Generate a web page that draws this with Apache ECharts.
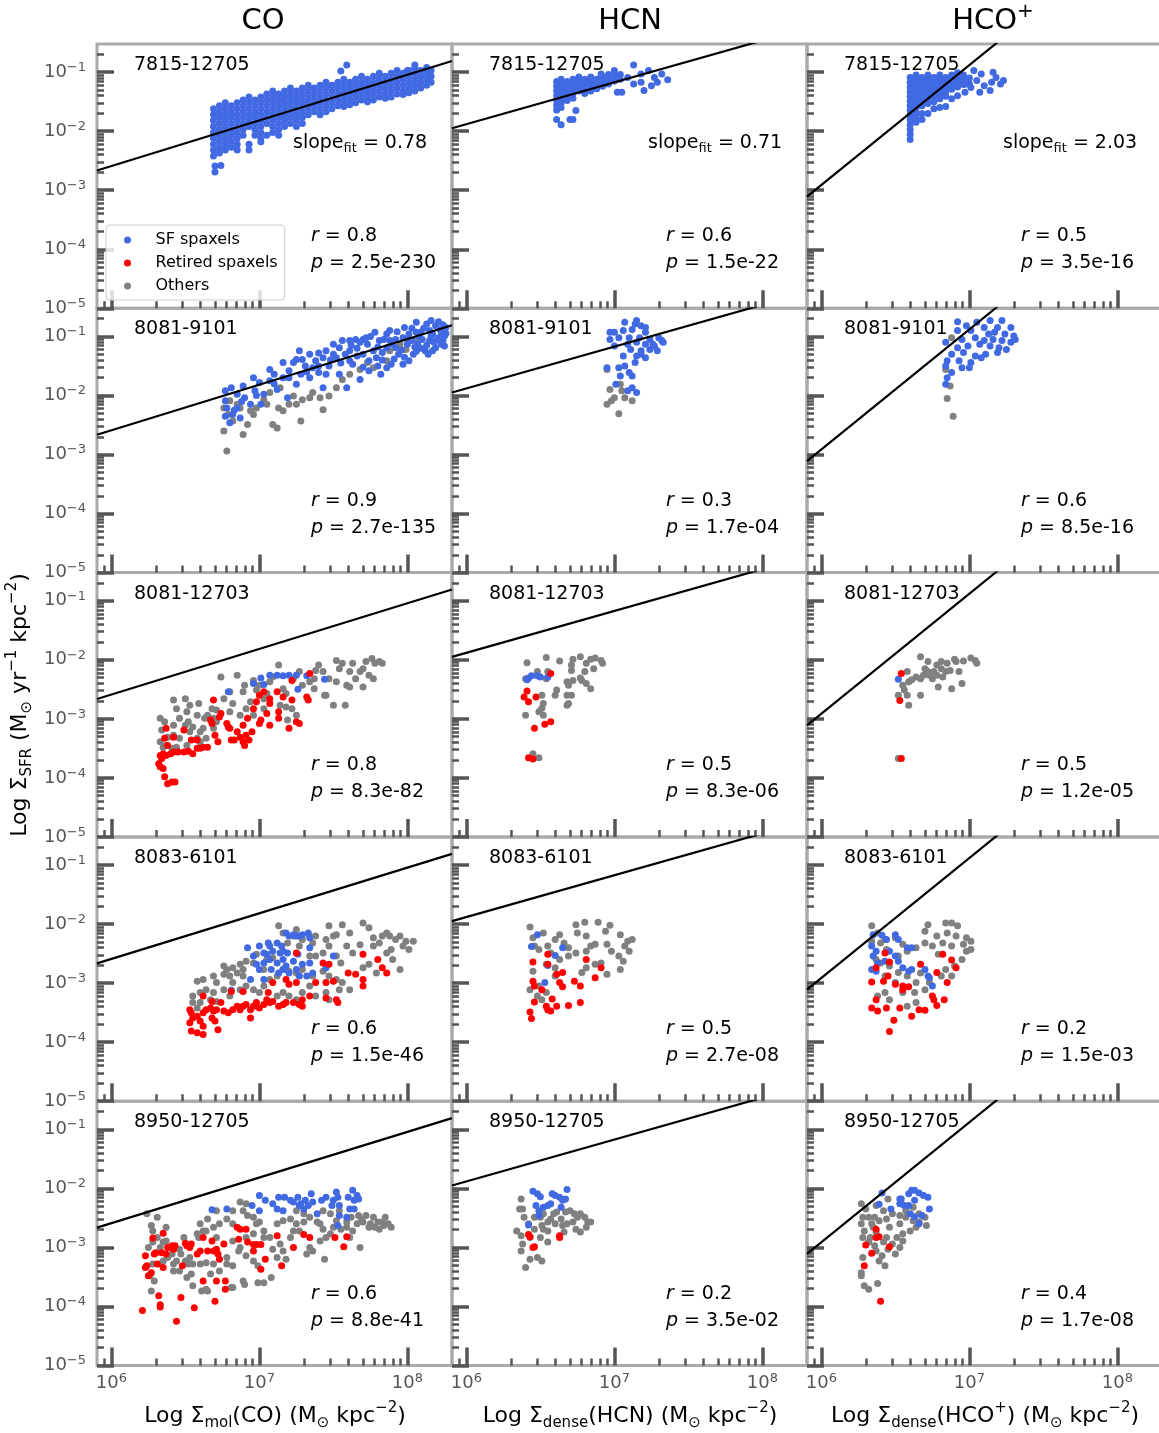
<!DOCTYPE html>
<html><head><meta charset="utf-8">
<script src="https://cdn.jsdelivr.net/npm/echarts@6/dist/echarts.min.js"></script>
<style>html,body{margin:0;padding:0;background:#fff}#c{width:1159px;height:1433px}</style>
</head><body><div id="c"></div>
<script>
const FONT = 'DejaVu Sans';
const galaxies = ['7815-12705','8081-9101','8081-12703','8083-6101','8950-12705'];
const rText = [['0.8','0.6','0.5'],['0.9','0.3','0.6'],['0.8','0.5','0.5'],['0.6','0.5','0.2'],['0.6','0.2','0.4']];
const pText = [['2.5e-230','1.5e-22','3.5e-16'],['2.7e-135','1.7e-04','8.5e-16'],['8.3e-82','8.3e-06','1.2e-05'],['1.5e-46','2.7e-08','1.5e-03'],['8.8e-41','3.5e-02','1.7e-08']];
const slopeText = ['0.78','0.71','2.03'];
const X_MIN = 8e5, X_MAX = 2e8, Y_MIN = 1e-5, Y_MAX = 0.3;
const xMajor = [1e6,1e7,1e8];
const xMinor = [9e5,2e6,3e6,4e6,5e6,6e6,7e6,8e6,9e6,2e7,3e7,4e7,5e7,6e7,7e7,8e7,9e7];
const yMajor = [1e-5,1e-4,1e-3,1e-2,1e-1];
const yMinor = [2e-5,3e-5,4e-5,5e-5,6e-5,7e-5,8e-5,9e-5,2e-4,3e-4,4e-4,5e-4,6e-4,7e-4,8e-4,9e-4,2e-3,3e-3,4e-3,5e-3,6e-3,7e-3,8e-3,9e-3,2e-2,3e-2,4e-2,5e-2,6e-2,7e-2,8e-2,9e-2,2e-1];

// fit lines, log10 values [log x, log y]
const fitCO  = [[5.903,-2.665],[8.301,-0.81]];
const fitHCN = [[5.903,-1.95],[8.301,-0.25]];
const fitHCO = [[5.903,-3.11],[7.30,-0.27]];

// All points below are log10 values [log Sigma_gas, log Sigma_SFR]
// 7815-12705 (columns: [logx, [logy...]])
const g1_CO_sf_cols = [
[6.69,[-1.62,-1.72,-1.82,-1.92,-2.02,-2.12,-2.22,-2.32,-2.42]],[6.70,[-2.59,-2.69]],
[6.73,[-1.57,-1.67,-1.77,-1.87,-1.97,-2.07,-2.17,-2.27,-2.37]],[6.74,[-2.58]],
[6.77,[-1.52,-1.62,-1.72,-1.82,-1.92,-2.02,-2.12,-2.22,-2.32]],
[6.81,[-1.57,-1.67,-1.77,-1.87,-1.97,-2.07,-2.17,-2.27]],
[6.85,[-1.52,-1.62,-1.72,-1.82,-1.92,-2.02,-2.12,-2.22,-2.32]],
[6.89,[-1.47,-1.57,-1.67,-1.77,-1.87,-1.97,-2.07]],
[6.93,[-1.42,-1.52,-1.62,-1.72,-1.82,-1.92,-2.22,-2.32]],
[6.97,[-1.47,-1.57,-1.67,-1.77,-1.87,-1.97,-2.07]],
[7.01,[-1.42,-1.52,-1.62,-1.72,-1.82,-1.92,-2.02,-2.12,-2.18]],
[7.05,[-1.37,-1.47,-1.57,-1.67,-1.77,-1.87,-2.07]],
[7.09,[-1.32,-1.42,-1.52,-1.62,-1.72,-1.82,-1.92,-2.02]],
[7.13,[-1.37,-1.47,-1.57,-1.67,-1.77,-1.87,-1.97,-2.07]],
[7.17,[-1.32,-1.42,-1.52,-1.62,-1.72,-1.82,-1.92]],
[7.21,[-1.27,-1.37,-1.47,-1.57,-1.67,-1.77,-1.87]],
[7.25,[-1.32,-1.42,-1.52,-1.62,-1.72,-1.82,-1.92]],
[7.29,[-1.27,-1.37,-1.47,-1.57,-1.67,-1.77,-1.87]],
[7.33,[-1.22,-1.32,-1.42,-1.52,-1.62,-1.72]],
[7.37,[-1.27,-1.37,-1.47,-1.57,-1.67]],
[7.41,[-1.22,-1.32,-1.42,-1.52,-1.62,-1.72]],
[7.45,[-1.17,-1.27,-1.37,-1.47,-1.57,-1.67]],
[7.49,[-1.22,-1.32,-1.42,-1.52,-1.62]],
[7.53,[-1.17,-1.27,-1.37,-1.47,-1.57]],[7.55,[-0.98]],
[7.57,[-1.12,-1.22,-1.32,-1.42,-1.52,-1.58]],[7.59,[-0.88]],
[7.61,[-1.17,-1.27,-1.37,-1.47,-1.55]],
[7.65,[-1.12,-1.22,-1.32,-1.42,-1.52]],
[7.69,[-1.07,-1.17,-1.27,-1.37,-1.47]],
[7.73,[-1.12,-1.22,-1.32,-1.42,-1.50]],
[7.77,[-1.07,-1.17,-1.27,-1.37,-1.47]],
[7.81,[-1.02,-1.12,-1.22,-1.32,-1.42]],
[7.85,[-1.07,-1.17,-1.27,-1.37,-1.44]],
[7.89,[-1.02,-1.12,-1.22,-1.32,-1.42]],
[7.93,[-0.97,-1.07,-1.17,-1.27,-1.37]],
[7.97,[-1.02,-1.12,-1.22,-1.32,-1.38]],[8.00,[-0.97]],
[8.01,[-0.97,-1.07,-1.17,-1.27,-1.35]],
[8.05,[-0.88,-0.92,-1.02,-1.12,-1.22,-1.32]],
[8.09,[-0.97,-1.07,-1.17,-1.27]],
[8.13,[-0.92,-1.02,-1.12,-1.22]],
[8.16,[-0.97,-1.07,-1.17]]
];
const g1_HCN_sf_cols = [
[6.61,[-1.16,-1.24,-1.32,-1.40,-1.48,-1.56,-1.64,-1.80]],[6.64,[-1.12,-1.20,-1.28,-1.36,-1.44,-1.52,-1.60,-1.89]],
[6.68,[-1.16,-1.24,-1.32,-1.40,-1.48]],[6.70,[-1.80]],[6.72,[-1.12,-1.20,-1.28,-1.36,-1.44,-1.80]],[6.74,[-1.65]],
[6.76,[-1.08,-1.16,-1.24,-1.32]],[6.80,[-1.12,-1.20,-1.28,-1.36]],[6.84,[-1.08,-1.16,-1.24,-1.32]],
[6.88,[-1.12,-1.20,-1.28]],[6.91,[-1.03]],[6.92,[-1.08,-1.16,-1.24]],[6.96,[-1.04,-1.12,-1.20]],
[7.00,[-1.06,-1.15,-0.97]],[7.02,[-1.34]],[7.04,[-1.04,-1.12]],[7.05,[-1.34]],[7.09,[-1.09]],
[7.13,[-0.88,-1.20]],[7.18,[-1.03,-1.17]],[7.20,[-1.31]],[7.23,[-0.97]],[7.25,[-1.23]],[7.27,[-1.09]],
[7.29,[-1.17]],[7.32,[-1.03]],[7.36,[-1.13]]
];
const g1_HCO_sf_cols = [
[6.60,[-1.09,-1.17,-1.25,-1.33,-1.41,-1.49,-1.57,-1.65,-1.73,-1.81,-1.89,-1.97,-2.05,-2.14]],
[6.64,[-1.05,-1.13,-1.21,-1.29,-1.37,-1.45,-1.53,-1.61,-1.69,-1.77,-1.85]],
[6.68,[-1.09,-1.17,-1.25,-1.33,-1.41,-1.49,-1.57,-1.70,-1.80]],
[6.72,[-1.05,-1.13,-1.21,-1.29,-1.37,-1.45,-1.53,-1.70]],
[6.76,[-1.09,-1.17,-1.25,-1.33,-1.41,-1.50,-1.62]],
[6.80,[-1.05,-1.13,-1.21,-1.29,-1.37,-1.45,-1.60]],
[6.84,[-1.09,-1.17,-1.25,-1.33,-1.41,-1.58]],
[6.88,[-1.05,-1.13,-1.21,-1.29,-1.45]],
[6.92,[-1.01,-1.09,-1.17,-1.25,-1.40]],
[6.96,[-1.05,-1.13,-1.21]],[6.97,[-1.34]],[6.98,[-1.20]],[7.00,[-1.10,-1.20]],[7.01,[-1.26]],
[7.03,[-0.97]],[7.05,[-1.14]],[7.07,[-1.34]],[7.08,[-1.03]],[7.10,[-1.23]],[7.14,[-1.31]],
[7.15,[-1.17]],[7.16,[-1.00]],[7.18,[-1.09]],[7.21,[-1.20]],[7.23,[-1.14]]
];

// 8081-9101
const g2_CO_sf = [[6.77,-1.92],[6.77,-2.09],[6.78,-2.21],[6.77,-2.35],[6.80,-2.46],[6.82,-2.32],[6.85,-2.21],[6.87,-2.38],[6.81,-1.87],[6.85,-1.98],[6.89,-1.84],[6.90,-2.04],[6.94,-2.15],[6.96,-1.70],[6.97,-1.92],[7.00,-1.78],[7.03,-1.98],[7.01,-2.15],[7.07,-1.56],[7.07,-1.75],[7.10,-1.64],[7.12,-1.90],[7.16,-1.44],[7.16,-1.70],[7.19,-2.04],[7.20,-1.58],[7.25,-1.39],[7.25,-1.81],[7.28,-1.64],[7.31,-1.50],[7.34,-1.30],[7.34,-1.70],[7.38,-1.41],[7.40,-1.61],[7.43,-1.87],[7.45,-1.24],[7.47,-1.50],[7.50,-1.13],[7.52,-1.36],[7.54,-1.64],[7.56,-1.07],[7.59,-1.87],[7.61,-1.24],[7.63,-1.47],[7.65,-1.05],[7.68,-1.73],[7.70,-1.30],[7.73,-1.13],[7.74,-1.58],[7.78,-0.93],[7.79,-1.36],[7.81,-1.07],[7.82,-1.64],[7.86,-1.19],[7.88,-0.90],[7.89,-1.47],[7.92,-1.05],[7.94,-1.30],[7.97,-1.47],[7.98,-0.85],[8.00,-1.13],[8.01,-0.96],[8.04,-1.30],[8.06,-0.76],[8.07,-1.13],[8.09,-0.93],[8.12,-1.24],[8.13,-0.79],[8.15,-1.07],[8.16,-0.73],[8.17,-0.96],[8.19,-1.19],[8.22,-0.88],[8.24,-1.07],[8.25,-0.99],[8.26,-0.85],[7.88,-1.07],[7.92,-1.19],[7.97,-1.02],[8.03,-1.07],[8.06,-0.93],[8.10,-1.05],[8.15,-0.90],[8.18,-1.10],[8.21,-1.02],[8.23,-1.13],[8.25,-1.16],[7.83,-1.27],[7.77,-1.24],[7.68,-1.10],[7.72,-1.02],[7.61,-1.07],[7.54,-1.19],[7.50,-1.30],[7.43,-1.36],[7.36,-1.53],[7.29,-1.39],[7.23,-1.44],[7.27,-1.24],[7.45,-1.64],[7.61,-1.41],[7.74,-1.41],[7.86,-1.53],[8.01,-1.41],[8.17,-1.24],
[7.62,-1.15],[7.66,-1.20],[7.70,-1.05],[7.75,-1.00],[7.80,-1.18],[7.84,-1.05],[7.86,-0.96],[7.90,-1.13],[7.93,-0.92],[7.96,-1.23],[8.00,-1.05],[8.03,-0.86],[8.05,-1.18],[8.08,-1.00],[8.11,-0.86],[8.13,-1.15],[8.16,-0.99],[8.19,-0.82],[8.20,-1.06],[8.23,-0.94],[8.26,-0.95],[8.24,-0.80],[8.21,-0.75],[8.09,-1.20],[7.98,-1.35],[7.83,-1.40],[7.70,-1.52],[7.58,-1.30],[7.48,-1.40],[7.40,-1.50],[7.32,-1.60],[7.20,-1.70],[7.10,-1.80],[6.98,-2.00],[6.88,-2.10],[6.83,-2.25],[7.40,-1.28],[7.55,-1.45],[7.66,-1.33],[7.80,-1.50],[7.91,-1.38],[8.06,-1.25],[8.14,-1.30]];
const g2_CO_oth = [[6.78,-2.94],[6.76,-2.60],[6.89,-2.66],[6.92,-2.49],[6.82,-2.43],[6.96,-2.32],[7.09,-2.49],[7.12,-2.55],[7.16,-2.26],[7.20,-2.15],[7.25,-2.15],[7.28,-2.43],[7.34,-2.04],[7.43,-2.24],[7.47,-2.01],[7.52,-1.87],[7.68,-1.56],[7.77,-1.53],[7.86,-1.41],[7.95,-1.13],[8.06,-1.07],[6.76,-2.21],[6.80,-2.09],[6.85,-2.15],[6.98,-2.21],[7.03,-2.07],[7.07,-1.95],[7.14,-1.87],[7.23,-2.01],[7.36,-1.95],[6.79,-2.32],[6.87,-2.21],[6.94,-2.26],[7.05,-2.15],[7.13,-2.21],[7.29,-2.07],[7.41,-2.04],[7.56,-1.73],[7.61,-1.64],[7.73,-1.44],[7.88,-1.24],[7.99,-1.22]];
const g2_HCN_sf = [[7.07,-0.76],[7.15,-0.73],[7.00,-0.93],[7.06,-0.90],[7.12,-0.88],[7.18,-0.82],[7.21,-0.93],[6.97,-1.05],[7.03,-1.02],[7.10,-1.02],[7.17,-1.02],[7.24,-1.05],[7.30,-1.02],[7.33,-1.10],[7.27,-1.16],[7.21,-1.13],[7.15,-1.10],[7.09,-1.13],[7.00,-1.16],[7.11,-1.22],[7.18,-1.24],[7.24,-1.22],[7.29,-1.24],[7.06,-1.33],[7.15,-1.33],[7.21,-1.36],[7.14,-1.44],[7.07,-1.50],[6.95,-1.53],[7.03,-1.53],[7.10,-1.61],[7.04,-1.67],[7.12,-1.67],[7.01,-1.81],[7.12,-1.87],[7.09,-1.92],[7.15,-1.95],[7.18,-1.30],[7.26,-1.13],[7.32,-1.07],[6.97,-0.93],[7.14,-0.79],[7.21,-0.85]];
const g2_HCN_oth = [[6.95,-1.56],[6.97,-1.90],[7.04,-1.81],[7.00,-2.04],[6.95,-2.15],[7.03,-2.31],[7.07,-2.04],[7.12,-2.09],[6.98,-2.09],[7.05,-1.92]];
const g2_HCO_sf = [[6.92,-0.75],[7.05,-0.76],[7.14,-0.73],[7.22,-0.73],[7.10,-0.85],[7.19,-0.85],[7.28,-0.85],[6.92,-0.90],[7.01,-0.90],[7.13,-0.96],[7.24,-0.96],[7.31,-1.05],[6.84,-1.10],[6.95,-1.05],[7.04,-1.02],[7.10,-1.07],[7.16,-1.05],[7.22,-1.07],[7.28,-1.10],[6.92,-1.19],[6.99,-1.16],[7.07,-1.13],[7.14,-1.16],[7.20,-1.19],[6.88,-1.30],[6.96,-1.27],[7.04,-1.33],[7.11,-1.30],[7.19,-1.27],[6.85,-1.41],[6.93,-1.41],[7.01,-1.44],[7.08,-1.36],[6.95,-1.53],[6.84,-1.50],[6.88,-1.61],[6.85,-1.70],[6.84,-1.81],[7.00,-1.53],[7.25,-1.22],[7.30,-0.99],[7.17,-0.93],[6.98,-0.82]];
const g2_HCO_oth = [[6.88,-1.02],[6.84,-1.56],[6.87,-1.84],[6.85,-2.05],[6.89,-2.35]];

// 8081-12703
const g3_CO_sf = [[6.79,-2.54],[6.96,-2.40],[7.01,-2.31],[7.07,-2.26],[7.12,-2.26],[7.16,-2.27],[7.20,-2.26],[7.25,-2.26],[7.26,-2.50],[7.32,-2.27],[7.44,-2.33],[7.03,-2.42]];
const g3_CO_ret = [[6.32,-3.76],[6.33,-3.81],[6.35,-3.84],[6.36,-3.98],[6.38,-4.10],[6.41,-4.07],[6.43,-4.07],[6.34,-3.67],[6.33,-3.62],[6.35,-3.59],[6.37,-3.62],[6.40,-3.59],[6.42,-3.56],[6.45,-3.56],[6.49,-3.56],[6.52,-3.55],[6.55,-3.59],[6.58,-3.50],[6.60,-3.50],[6.62,-3.48],[6.65,-3.48],[6.38,-3.45],[6.36,-3.33],[6.37,-3.16],[6.42,-3.31],[6.49,-3.19],[6.54,-3.36],[6.58,-3.36],[6.67,-3.02],[6.68,-3.08],[6.70,-3.28],[6.72,-3.39],[6.73,-2.97],[6.74,-2.91],[6.79,-3.14],[6.78,-3.08],[6.69,-2.68],[6.81,-3.36],[6.83,-3.36],[6.87,-3.31],[6.89,-3.39],[6.91,-3.28],[6.93,-3.36],[6.89,-3.11],[6.95,-3.22],[6.92,-2.99],[6.96,-2.83],[6.98,-2.71],[7.00,-2.60],[7.03,-2.54],[7.00,-3.08],[7.01,-3.02],[7.05,-2.91],[7.07,-3.11],[7.07,-2.74],[7.12,-2.54],[7.13,-2.88],[7.13,-2.99],[7.16,-2.63],[7.22,-2.68],[7.20,-3.16],[7.25,-3.05],[7.27,-3.08],[7.22,-2.35],[7.32,-2.63],[7.33,-2.68],[7.34,-2.23],[6.80,-3.16],[6.85,-3.22],[6.90,-3.45],[7.07,-2.66]];
const g3_CO_oth = [[6.33,-2.99],[6.34,-3.19],[6.33,-3.39],[6.35,-3.48],[6.37,-3.45],[6.42,-3.28],[6.42,-2.68],[6.44,-2.83],[6.46,-2.99],[6.50,-2.66],[6.51,-2.88],[6.53,-2.77],[6.55,-3.14],[6.58,-2.94],[6.59,-2.74],[6.60,-3.22],[6.62,-3.16],[6.63,-2.99],[6.64,-3.33],[6.68,-2.83],[6.69,-2.99],[6.71,-2.85],[6.74,-2.29],[6.76,-2.66],[6.80,-2.54],[6.82,-2.74],[6.85,-2.26],[6.87,-2.94],[6.89,-2.54],[6.90,-2.43],[6.91,-2.83],[6.94,-2.71],[6.96,-2.35],[6.98,-2.51],[7.00,-2.43],[7.03,-2.83],[7.07,-2.37],[7.09,-2.29],[7.13,-2.09],[7.14,-2.77],[7.16,-2.49],[7.18,-2.80],[7.19,-3.02],[7.23,-2.32],[7.25,-2.94],[7.27,-2.20],[7.29,-2.43],[7.34,-2.37],[7.37,-2.49],[7.38,-2.18],[7.40,-2.09],[7.43,-2.20],[7.45,-2.60],[7.47,-2.32],[7.50,-2.77],[7.52,-2.37],[7.54,-2.15],[7.52,-2.01],[7.56,-2.06],[7.59,-2.43],[7.58,-2.77],[7.61,-2.20],[7.63,-2.06],[7.65,-2.32],[7.68,-2.20],[7.70,-2.46],[7.72,-2.03],[7.74,-2.26],[7.76,-1.98],[7.78,-2.06],[7.81,-2.03],[7.83,-2.06],[7.77,-2.32],[7.70,-2.15],[7.61,-2.46],[7.44,-2.60],[7.37,-2.32],[7.22,-2.83],[7.18,-2.57],[6.69,-3.16],[6.53,-3.22],[6.46,-3.33],[6.50,-3.11],[6.58,-3.33],[6.42,-3.11],[6.41,-3.50],[6.44,-3.48],[6.51,-3.45],[6.60,-3.39],[7.03,-2.66],[7.05,-2.57],[6.96,-2.94],[6.80,-2.88],[6.71,-3.05],[6.65,-2.94],[6.52,-3.05],[6.36,-3.05],[6.38,-3.31]];
const g3_HCN_sf = [[6.42,-2.31],[6.44,-2.27],[6.48,-2.27],[6.50,-2.29],[6.55,-2.29],[6.41,-2.34]];
const g3_HCN_ret = [[6.57,-2.23],[6.41,-2.53],[6.39,-2.63],[6.42,-2.71],[6.47,-2.63],[6.46,-3.16],[6.53,-3.09],[6.57,-3.05],[6.42,-3.66],[6.45,-3.68]];
const g3_HCN_oth = [[6.41,-2.05],[6.54,-1.96],[6.63,-2.02],[6.72,-1.99],[6.77,-1.95],[6.71,-2.09],[6.71,-2.18],[6.81,-2.06],[6.84,-1.99],[6.87,-1.97],[6.91,-2.01],[6.92,-2.06],[6.86,-2.15],[6.80,-2.20],[6.77,-2.31],[6.78,-2.35],[6.72,-2.35],[6.68,-2.37],[6.69,-2.43],[6.81,-2.40],[6.84,-2.49],[6.61,-2.51],[6.60,-2.60],[6.68,-2.60],[6.71,-2.60],[6.68,-2.77],[6.69,-2.74],[6.51,-2.60],[6.52,-2.74],[6.51,-2.82],[6.49,-2.88],[6.40,-2.94],[6.52,-2.94],[6.45,-3.59],[6.49,-3.66],[6.40,-2.32],[6.48,-2.20],[6.55,-2.20],[6.54,-2.32]];
const g3_HCO_sf = [[6.52,-2.33]];
const g3_HCO_ret = [[6.54,-2.23],[6.53,-2.69],[6.54,-3.67]];
const g3_HCO_oth = [[6.67,-1.95],[6.72,-2.03],[6.78,-2.09],[6.81,-2.03],[6.85,-2.06],[6.90,-1.99],[6.91,-2.03],[6.96,-2.02],[7.01,-1.97],[7.04,-2.01],[7.05,-2.06],[6.93,-2.20],[6.87,-2.18],[6.81,-2.15],[6.76,-2.20],[6.72,-2.20],[6.69,-2.26],[6.64,-2.29],[6.58,-2.20],[6.59,-2.37],[6.55,-2.43],[6.61,-2.34],[6.67,-2.32],[6.73,-2.26],[6.75,-2.32],[6.82,-2.29],[6.79,-2.46],[6.88,-2.49],[6.95,-2.40],[6.56,-2.51],[6.52,-2.60],[6.58,-2.60],[6.67,-2.60],[6.59,-2.77],[6.52,-3.67],[6.70,-2.15],[6.78,-2.26],[6.84,-2.20]];

// 8083-6101
const g4_CO_sf = [[6.92,-2.40],[6.96,-2.54],[6.98,-2.68],[7.00,-2.77],[7.03,-2.66],[7.05,-2.51],[7.07,-2.37],[7.09,-2.46],[7.12,-2.32],[7.14,-2.49],[7.15,-2.37],[7.16,-2.46],[7.18,-2.15],[7.20,-2.20],[7.23,-2.18],[7.25,-2.20],[7.27,-2.20],[7.29,-2.18],[7.33,-2.15],[7.34,-2.23],[7.12,-2.66],[7.16,-2.60],[7.18,-2.71],[7.20,-2.83],[7.25,-2.77],[7.29,-2.68],[7.34,-2.66],[7.36,-2.83],[7.32,-2.88],[7.27,-2.88],[7.13,-2.83],[7.08,-2.77],[7.03,-2.94],[6.94,-2.94],[6.81,-3.12],[7.34,-2.40],[7.50,-2.54],[7.45,-2.74],[7.23,-2.63],[7.07,-2.60],[7.26,-2.51],[7.19,-2.49],[7.03,-2.49],[7.00,-2.37],[7.06,-2.32],[7.16,-2.77]];
const g4_CO_ret = [[6.53,-3.45],[6.54,-3.50],[6.55,-3.59],[6.53,-3.67],[6.54,-3.81],[6.58,-3.84],[6.62,-3.87],[6.62,-3.73],[6.60,-3.64],[6.58,-3.56],[6.62,-3.50],[6.64,-3.45],[6.67,-3.42],[6.69,-3.47],[6.71,-3.45],[6.68,-3.59],[6.70,-3.64],[6.72,-3.79],[6.76,-3.47],[6.79,-3.50],[6.82,-3.45],[6.85,-3.39],[6.87,-3.45],[6.89,-3.39],[6.91,-3.36],[6.94,-3.45],[6.94,-3.59],[6.96,-3.39],[6.98,-3.33],[7.00,-3.42],[7.03,-3.36],[7.05,-3.28],[7.07,-3.33],[7.09,-3.31],[7.13,-3.39],[7.16,-3.36],[7.18,-3.33],[7.23,-3.33],[7.27,-3.36],[7.29,-3.39],[7.29,-3.28],[7.34,-3.22],[7.45,-3.25],[7.52,-3.28],[7.53,-3.33],[7.06,-3.16],[6.62,-3.22],[6.68,-3.31],[6.74,-3.33],[7.25,-2.49],[7.43,-2.66],[7.47,-2.68],[7.70,-2.51],[7.80,-2.60],[7.83,-2.74],[7.86,-2.83],[7.60,-2.83],[7.65,-2.85],[7.70,-2.94],[7.70,-3.05],[7.50,-2.97],[7.45,-2.99],[7.38,-2.99],[7.25,-2.99],[7.20,-3.02],[7.18,-2.94],[7.09,-2.99],[6.89,-3.14],[6.81,-3.14]];
const g4_CO_oth = [[6.58,-2.97],[6.62,-2.94],[6.69,-2.88],[6.71,-2.99],[6.76,-2.85],[6.78,-2.77],[6.80,-2.88],[6.82,-2.99],[6.85,-2.83],[6.87,-2.68],[6.89,-2.77],[6.91,-2.63],[6.96,-2.66],[6.98,-2.51],[7.03,-2.77],[7.05,-2.60],[7.09,-2.57],[7.13,-2.03],[7.16,-2.15],[7.19,-2.32],[7.23,-2.20],[7.25,-2.09],[7.27,-2.37],[7.29,-2.26],[7.34,-2.20],[7.36,-2.32],[7.38,-2.54],[7.43,-2.49],[7.45,-2.26],[7.47,-2.37],[7.50,-2.20],[7.52,-2.18],[7.56,-2.01],[7.61,-2.15],[7.59,-2.37],[7.63,-2.49],[7.68,-2.35],[7.70,-1.98],[7.74,-2.06],[7.77,-2.23],[7.81,-2.32],[7.83,-2.20],[7.86,-2.15],[7.88,-2.20],[7.89,-2.43],[7.92,-2.26],[7.95,-2.20],[7.97,-2.37],[7.99,-2.29],[8.01,-2.43],[8.04,-2.29],[7.86,-2.49],[7.90,-2.60],[7.95,-2.77],[7.74,-2.68],[7.79,-2.83],[7.55,-2.66],[7.52,-2.54],[7.34,-2.54],[7.29,-2.77],[7.25,-2.83],[7.20,-2.80],[7.16,-2.77],[7.12,-2.88],[7.07,-2.94],[7.03,-3.05],[7.00,-3.16],[6.96,-3.11],[6.91,-3.05],[6.87,-3.11],[6.80,-3.22],[6.76,-3.11],[6.69,-3.16],[6.64,-3.11],[6.60,-3.16],[6.55,-3.22],[6.55,-3.33],[6.58,-3.42],[6.60,-3.33],[6.67,-3.28],[6.71,-3.31],[7.29,-3.16],[7.34,-3.05],[7.38,-3.22],[7.45,-3.16],[7.47,-3.28],[7.25,-3.28],[7.20,-3.22],[7.16,-3.16],[7.12,-3.22],[7.36,-2.88],[7.43,-2.80],[7.47,-2.88],[7.52,-2.94],[7.56,-2.99],[7.61,-3.11],[7.54,-3.11],[7.70,-2.74],[7.77,-2.37],[6.76,-2.71],[6.82,-2.74],[6.89,-2.88],[7.47,-2.03],[7.38,-2.20]];
const g4_HCN_sf = [[6.48,-2.18],[6.44,-2.38],[6.60,-2.53],[6.55,-2.70],[6.53,-2.99],[6.65,-2.40]];
const g4_HCN_ret = [[6.55,-2.51],[6.45,-2.64],[6.55,-2.68],[6.61,-2.85],[6.65,-2.82],[6.45,-2.97],[6.46,-3.05],[6.51,-3.11],[6.65,-3.06],[6.73,-2.97],[6.77,-3.05],[6.81,-2.60],[6.87,-2.91],[6.91,-2.74],[6.63,-2.99],[6.58,-3.27],[6.46,-3.32],[6.54,-3.39],[6.55,-3.45],[6.61,-3.39],[6.69,-3.38],[6.77,-3.33],[6.43,-3.49],[6.44,-3.60],[6.57,-3.47]];
const g4_HCN_oth = [[6.43,-2.05],[6.52,-2.15],[6.45,-2.23],[6.46,-2.37],[6.49,-2.43],[6.55,-2.37],[6.60,-2.26],[6.63,-2.18],[6.66,-2.32],[6.74,-2.01],[6.80,-1.97],[6.89,-1.97],[6.97,-2.02],[6.75,-2.15],[6.81,-2.20],[6.74,-2.49],[6.81,-2.46],[6.87,-2.34],[6.95,-2.34],[6.98,-2.46],[7.04,-2.18],[7.09,-2.29],[7.10,-2.46],[7.06,-2.63],[7.03,-2.54],[7.04,-2.77],[6.81,-2.74],[6.87,-2.68],[6.78,-2.82],[6.69,-2.54],[6.63,-2.60],[6.60,-2.74],[6.54,-2.68],[6.45,-2.80],[6.49,-3.05],[6.48,-3.22],[6.51,-3.28],[6.54,-3.16],[6.43,-3.11],[6.60,-2.88],[6.95,-2.85],[6.91,-2.66],[6.69,-2.40],[6.57,-2.49],[6.84,-2.37],[6.94,-2.12],[7.07,-2.37],[7.12,-2.26]];
const g4_HCO_sf = [[6.35,-2.18],[6.41,-2.19],[6.44,-2.26],[6.50,-2.18],[6.52,-2.26],[6.34,-2.37],[6.37,-2.46],[6.35,-2.54],[6.38,-2.66],[6.43,-2.63],[6.46,-2.46],[6.50,-2.54],[6.52,-2.63],[6.58,-2.40],[6.61,-2.40],[6.55,-2.74],[6.59,-2.80],[6.61,-2.77],[6.72,-2.88],[6.73,-2.91],[6.75,-3.05],[6.70,-2.77],[6.34,-2.77],[6.37,-2.80]];
const g4_HCO_ret = [[6.43,-2.49],[6.46,-2.64],[6.37,-2.74],[6.45,-2.88],[6.42,-2.97],[6.34,-2.98],[6.50,-3.02],[6.55,-3.05],[6.59,-3.06],[6.67,-2.68],[6.78,-2.82],[6.82,-2.51],[6.88,-2.61],[6.91,-2.74],[6.85,-2.99],[6.75,-3.22],[6.76,-3.28],[6.83,-3.28],[6.78,-3.38],[6.70,-3.46],[6.66,-3.45],[6.61,-3.56],[6.53,-3.42],[6.44,-3.42],[6.37,-3.28],[6.34,-3.42],[6.38,-3.47],[6.49,-3.63],[6.46,-3.82],[6.55,-3.11]];
const g4_HCO_oth = [[6.34,-2.03],[6.38,-2.15],[6.34,-2.29],[6.40,-2.32],[6.43,-2.26],[6.50,-2.23],[6.55,-2.34],[6.58,-2.46],[6.64,-2.40],[6.70,-2.32],[6.72,-2.01],[6.70,-2.12],[6.75,-2.37],[6.79,-2.51],[6.84,-1.98],[6.88,-1.98],[6.92,-2.03],[6.85,-2.15],[6.91,-2.20],[6.98,-2.23],[7.01,-2.29],[6.96,-2.34],[6.98,-2.46],[6.95,-2.60],[6.90,-2.71],[6.84,-2.77],[6.88,-2.88],[6.81,-2.88],[6.73,-2.99],[6.70,-3.11],[6.64,-2.99],[6.58,-2.88],[6.52,-2.82],[6.46,-2.71],[6.40,-2.66],[6.37,-2.60],[6.43,-2.88],[6.50,-2.99],[6.43,-3.16],[6.38,-3.22],[6.46,-3.28],[6.55,-3.16],[6.63,-3.16],[6.64,-3.33],[6.58,-3.39],[6.67,-2.83],[6.52,-2.54],[6.44,-2.43],[6.78,-2.20],[6.82,-2.32],[6.88,-2.37],[7.01,-2.43]];

// 8950-12705
const g5_CO_sf = [[6.68,-2.36],[6.78,-2.35],[6.95,-2.29],[7.00,-2.12],[7.00,-2.38],[7.04,-2.20],[7.09,-2.26],[7.13,-2.15],[7.17,-2.15],[7.21,-2.20],[7.23,-2.23],[7.26,-2.15],[7.28,-2.26],[7.31,-2.20],[7.30,-2.35],[7.35,-2.09],[7.36,-2.23],[7.39,-2.43],[7.42,-2.20],[7.45,-2.15],[7.49,-2.29],[7.52,-2.06],[7.53,-2.15],[7.54,-2.29],[7.54,-2.46],[7.59,-2.49],[7.60,-2.15],[7.63,-2.03],[7.64,-2.20],[7.67,-2.18],[7.61,-2.35],[7.64,-2.35],[7.53,-2.63],[7.12,-2.35],[7.16,-2.38],[7.27,-2.29],[7.33,-2.29],[7.50,-2.20],[7.66,-2.12]];
const g5_CO_ret = [[6.21,-4.07],[6.23,-3.14],[6.24,-3.31],[6.23,-3.34],[6.25,-3.48],[6.27,-3.43],[6.28,-2.84],[6.29,-3.11],[6.31,-3.28],[6.30,-3.09],[6.32,-3.82],[6.33,-3.97],[6.33,-4.01],[6.35,-2.76],[6.34,-3.09],[6.35,-3.34],[6.37,-3.11],[6.38,-3.00],[6.40,-3.00],[6.41,-2.97],[6.42,-3.03],[6.43,-2.97],[6.44,-4.25],[6.47,-3.85],[6.48,-3.31],[6.50,-2.93],[6.51,-2.97],[6.53,-3.00],[6.54,-2.94],[6.56,-4.02],[6.58,-3.11],[6.60,-3.06],[6.62,-2.83],[6.62,-3.57],[6.65,-3.06],[6.68,-2.89],[6.69,-3.06],[6.71,-3.57],[6.71,-3.03],[6.72,-3.11],[6.73,-3.20],[6.70,-3.91],[6.76,-2.94],[6.77,-3.57],[6.77,-3.71],[6.85,-2.66],[6.86,-2.86],[6.87,-2.69],[6.91,-2.69],[6.92,-2.91],[6.96,-2.95],[6.98,-2.95],[7.01,-2.95],[6.96,-3.06],[7.04,-3.20],[7.01,-3.37],[7.15,-3.31],[7.12,-2.80],[7.23,-3.00],[7.30,-2.78],[7.34,-2.83],[7.51,-2.83],[7.57,-2.99],[7.59,-2.82]];
const g5_CO_oth = [[6.24,-2.43],[6.25,-3.00],[6.27,-2.63],[6.28,-2.91],[6.31,-2.83],[6.33,-3.00],[6.35,-2.91],[6.37,-2.89],[6.38,-3.17],[6.42,-3.28],[6.44,-3.23],[6.46,-3.03],[6.49,-2.83],[6.52,-3.28],[6.54,-3.45],[6.55,-3.65],[6.60,-3.28],[6.61,-3.74],[6.64,-3.26],[6.67,-3.45],[6.69,-3.28],[6.73,-3.40],[6.78,-3.28],[6.81,-3.68],[6.82,-3.31],[6.86,-3.06],[6.87,-2.23],[6.89,-2.38],[6.91,-2.26],[6.92,-2.46],[6.96,-2.49],[6.98,-2.60],[7.00,-2.57],[7.03,-2.72],[6.91,-3.14],[6.96,-3.23],[6.99,-3.31],[6.99,-3.60],[7.03,-3.60],[7.08,-3.51],[7.09,-3.03],[7.12,-3.17],[7.14,-2.94],[7.16,-3.06],[7.18,-3.20],[7.21,-2.83],[7.23,-2.72],[7.25,-2.60],[7.27,-2.72],[7.30,-2.57],[7.32,-3.11],[7.34,-3.00],[7.36,-3.06],[7.41,-2.60],[7.43,-2.69],[7.45,-2.83],[7.48,-2.77],[7.44,-3.20],[7.41,-2.89],[7.50,-2.66],[7.52,-2.55],[7.55,-2.69],[7.59,-2.66],[7.62,-2.49],[7.63,-2.72],[7.67,-2.46],[7.68,-3.00],[7.70,-2.57],[7.72,-2.46],[7.75,-2.60],[7.77,-2.49],[7.80,-2.57],[7.83,-2.57],[7.85,-2.49],[7.87,-2.60],[7.89,-2.66],[7.74,-2.66],[7.78,-2.66],[7.81,-2.69],[7.84,-2.63],[7.61,-2.83],[7.66,-2.60],[7.69,-2.52],[6.60,-2.60],[6.62,-2.72],[6.64,-2.72],[6.69,-2.66],[6.73,-2.60],[6.78,-2.52],[6.82,-2.38],[6.82,-2.60],[6.71,-2.38],[6.65,-2.52],[6.59,-2.83],[6.58,-2.77],[6.53,-3.17],[6.47,-3.11],[6.41,-3.11],[6.37,-2.66],[6.28,-2.72],[6.31,-2.49],[6.33,-3.28],[6.35,-3.23],[6.28,-3.28],[6.26,-3.48],[6.27,-3.74],[6.29,-3.57],[6.42,-3.40],[6.46,-3.40],[6.51,-3.51],[6.64,-3.71],[6.65,-3.74],[6.82,-3.68],[6.89,-3.57],[6.90,-3.63],[6.78,-3.17],[6.71,-2.83],[6.82,-2.89],[6.87,-3.00],[6.91,-2.83],[6.96,-2.77],[7.03,-2.83],[7.07,-2.83],[7.12,-2.60],[7.16,-2.55],[7.21,-2.52],[7.25,-2.38],[7.30,-2.43],[7.34,-2.49],[7.39,-2.57],[7.43,-2.38],[7.48,-2.43],[7.54,-2.38],[7.59,-2.57],[6.50,-3.23],[6.55,-3.28]];
const g5_HCN_sf = [[6.45,-2.05],[6.48,-2.09],[6.50,-2.14],[6.47,-2.29],[6.49,-2.38],[6.52,-2.32],[6.55,-2.29],[6.57,-2.26],[6.58,-2.09],[6.60,-2.12],[6.63,-2.15],[6.65,-2.20],[6.67,-2.18],[6.68,-2.02],[6.64,-2.32],[6.49,-2.46],[6.42,-2.62]];
const g5_HCN_ret = [[6.42,-2.78],[6.43,-2.82],[6.45,-3.00],[6.46,-2.99],[6.63,-2.83],[6.63,-2.80]];
const g5_HCN_oth = [[6.37,-2.18],[6.36,-2.35],[6.38,-2.35],[6.39,-2.49],[6.34,-2.72],[6.37,-2.80],[6.38,-2.94],[6.37,-3.06],[6.40,-3.34],[6.43,-3.20],[6.48,-3.17],[6.51,-3.23],[6.43,-2.83],[6.46,-2.69],[6.50,-2.49],[6.52,-2.43],[6.55,-2.57],[6.57,-2.52],[6.59,-2.43],[6.61,-2.40],[6.64,-2.52],[6.65,-2.63],[6.68,-2.60],[6.67,-2.40],[6.70,-2.38],[6.73,-2.43],[6.75,-2.49],[6.77,-2.43],[6.80,-2.49],[6.82,-2.57],[6.84,-2.57],[6.81,-2.66],[6.77,-2.74],[6.74,-2.69],[6.72,-2.57],[6.66,-2.74],[6.60,-2.60],[6.55,-2.72],[6.52,-2.69],[6.50,-2.83],[6.55,-2.91],[6.42,-2.60],[6.46,-2.49],[6.51,-2.63]];
const g5_HCO_sf = [[6.41,-2.08],[6.39,-2.27],[6.47,-2.35],[6.53,-2.26],[6.54,-2.18],[6.59,-2.09],[6.61,-2.03],[6.63,-2.03],[6.66,-2.08],[6.69,-2.12],[6.72,-2.15],[6.73,-2.35],[6.63,-2.20],[6.59,-2.29],[6.56,-2.29],[6.63,-2.48],[6.68,-2.46],[6.66,-2.60],[6.60,-2.43],[6.53,-2.18]];
const g5_HCO_ret = [[6.37,-2.69],[6.37,-2.83],[6.39,-2.82],[6.30,-2.96],[6.34,-3.10],[6.29,-3.31],[6.46,-2.99],[6.40,-3.91]];
const g5_HCO_oth = [[6.27,-2.26],[6.30,-2.35],[6.28,-2.49],[6.27,-2.60],[6.29,-2.72],[6.28,-2.83],[6.33,-2.83],[6.32,-2.91],[6.36,-2.97],[6.37,-3.06],[6.41,-3.14],[6.43,-3.31],[6.39,-3.23],[6.28,-3.17],[6.27,-3.43],[6.27,-3.48],[6.29,-3.65],[6.32,-3.71],[6.38,-3.61],[6.45,-2.18],[6.42,-2.38],[6.44,-2.52],[6.48,-2.43],[6.53,-2.46],[6.57,-2.49],[6.62,-2.55],[6.66,-2.57],[6.71,-2.63],[6.64,-2.66],[6.60,-2.72],[6.55,-2.77],[6.51,-2.83],[6.48,-2.94],[6.53,-3.00],[6.50,-3.11],[6.45,-3.03],[6.42,-2.91],[6.37,-2.74],[6.34,-2.60],[6.36,-2.49],[6.39,-2.55],[6.46,-2.66],[6.53,-2.60],[6.57,-2.38],[6.62,-2.32],[6.66,-2.43],[6.70,-2.49],[6.37,-2.29],[6.35,-2.66],[6.44,-2.83],[6.55,-2.89],[6.32,-2.49]];

// ---------- build ----------
const GRID_LEFT = 97, COL_W = 355, GRID_TOP = 44, ROW_H = 264.3;
const L = v => Math.pow(10, v);
const toLin = pts => pts.map(p => [L(p[0]), L(p[1])]);
const fromCols = cols => cols.flatMap(c => c[1].map(y => [c[0], y]));
const E = [];
const panelData = [
 [{sf:fromCols(g1_CO_sf_cols),ret:E,oth:E},{sf:fromCols(g1_HCN_sf_cols),ret:E,oth:E},{sf:fromCols(g1_HCO_sf_cols),ret:E,oth:E}],
 [{sf:g2_CO_sf,ret:E,oth:g2_CO_oth},{sf:g2_HCN_sf,ret:E,oth:g2_HCN_oth},{sf:g2_HCO_sf,ret:E,oth:g2_HCO_oth}],
 [{sf:g3_CO_sf,ret:g3_CO_ret,oth:g3_CO_oth},{sf:g3_HCN_sf,ret:g3_HCN_ret,oth:g3_HCN_oth},{sf:g3_HCO_sf,ret:g3_HCO_ret,oth:g3_HCO_oth}],
 [{sf:g4_CO_sf,ret:g4_CO_ret,oth:g4_CO_oth},{sf:g4_HCN_sf,ret:g4_HCN_ret,oth:g4_HCN_oth},{sf:g4_HCO_sf,ret:g4_HCO_ret,oth:g4_HCO_oth}],
 [{sf:g5_CO_sf,ret:g5_CO_ret,oth:g5_CO_oth},{sf:g5_HCN_sf,ret:g5_HCN_ret,oth:g5_HCN_oth},{sf:g5_HCO_sf,ret:g5_HCO_ret,oth:g5_HCO_oth}]
];
const fits = [fitCO, fitHCN, fitHCO];

const TICK = '#555555', LABEL = '#555555';
const powLabel = v => { const e = Math.round(Math.log10(v)); return '{b|10}{s|' + (e < 0 ? '\u2212' + (-e) : e) + '}'; };
const labelRich = {
  b:{fontSize:18, lineHeight:22, fontFamily:FONT, color:LABEL},
  s:{fontSize:13, lineHeight:13, verticalAlign:'top', fontFamily:FONT, color:LABEL}
};
function axisDef(dim, gi, ticks, major, showLabel) {
  const isX = dim === 'x';
  return {
    type:'log', logBase:10, gridIndex:gi, position: isX ? 'bottom' : 'left',
    min: isX ? X_MIN : Y_MIN, max: isX ? X_MAX : Y_MAX,
    axisLine:{show:false, onZero:false}, splitLine:{show:false},
    minorTick:{show:false}, minorSplitLine:{show:false},
    axisTick:{show:true, inside:true, customValues:ticks, length: major ? (isX ? 18 : 17) : 7,
      lineStyle:{color:TICK, width: major ? 3.5 : 2.5}},
    axisLabel:{show:showLabel, customValues:ticks, formatter:powLabel, margin: isX ? 7 : 11,
      showMinLabel:true, showMaxLabel:true, rich:labelRich, color:LABEL, fontFamily:FONT, fontSize:18},
    z:1
  };
}

const grids = [], xAxes = [], yAxes = [], series = [], graphics = [];
const T = (x, y, text, size, extra) => ({type:'text', x, y, z:100, silent:true,
  style:Object.assign({text, fontSize:size, fontFamily:FONT, fill:'#000', align:'left', verticalAlign:'middle'}, extra || {})});
const italicRich = {i:{fontSize:19, fontFamily:FONT, fontStyle:'italic', fill:'#000'}};
const slopeRich = {s:{fontSize:13, fontFamily:FONT, fill:'#000', verticalAlign:'bottom', lineHeight:13}};

for (let r = 0; r < 5; r++) for (let c = 0; c < 3; c++) {
  const i = r*3 + c, left = GRID_LEFT + COL_W*c, top = GRID_TOP + ROW_H*r;
  grids.push({left, top, width:COL_W, height:ROW_H, show:true, borderColor:'#aaaaaa', borderWidth:3,
    backgroundColor:'rgba(0,0,0,0)', containLabel:false, outerBoundsMode:'none'});
  xAxes.push(axisDef('x', i, xMajor, true, r === 4));
  xAxes.push(axisDef('x', i, xMinor, false, false));
  yAxes.push(axisDef('y', i, yMajor, true, c === 0));
  yAxes.push(axisDef('y', i, yMinor, false, false));
  const d = panelData[r][c];
  const base = {type:'scatter', xAxisIndex:2*i, yAxisIndex:2*i, symbol:'circle', symbolSize:7, silent:true, z:2};
  series.push(Object.assign({name:'Others', data:toLin(d.oth), itemStyle:{color:'#808080', opacity:1}}, base));
  series.push(Object.assign({name:'SF spaxels', data:toLin(d.sf), itemStyle:{color:'#4169e1', opacity:1}}, base));
  series.push(Object.assign({name:'Retired spaxels', data:toLin(d.ret), itemStyle:{color:'#ff0000', opacity:1}}, base));
  series.push({type:'line', name:'fit', xAxisIndex:2*i, yAxisIndex:2*i, data:toLin(fits[c]),
    symbol:'none', showSymbol:false, clip:true, silent:true, z:3, lineStyle:{color:'#000', width:2.2}});
  graphics.push(T(left + 37, top + 21, galaxies[r], 19));
  graphics.push(T(left + 214, top + 192.5, '{i|r} = ' + rText[r][c], 19, {rich:italicRich}));
  graphics.push(T(left + 214, top + 219.5, '{i|p} = ' + pText[r][c], 19, {rich:italicRich}));
  if (r === 0) graphics.push(T(left + 196, top + 99, 'slope{s|fit} = ' + slopeText[c], 19, {rich:slopeRich, lineHeight:24}));
}

// column titles
const titleRich = {u:{fontSize:20, fontFamily:FONT, fill:'#000', verticalAlign:'top', lineHeight:18}};
graphics.push(T(263, 21, 'CO', 29, {align:'center', lineHeight:38}));
graphics.push(T(630, 21, 'HCN', 29, {align:'center', lineHeight:38}));
graphics.push(T(993, 21, 'HCO{u|+}', 29, {align:'center', lineHeight:38, rich:titleRich}));
// axis titles
const axRich = {
  sub:{fontSize:15, fontFamily:FONT, fill:'#000', verticalAlign:'bottom', lineHeight:15},
  sup:{fontSize:15, fontFamily:FONT, fill:'#000', verticalAlign:'top', lineHeight:15}
};
const xTitles = [
  'Log \u03A3{sub|mol}(CO) (M{sub|\u2299} kpc{sup|\u22122})',
  'Log \u03A3{sub|dense}(HCN) (M{sub|\u2299} kpc{sup|\u22122})',
  'Log \u03A3{sub|dense}(HCO{sup|+}) (M{sub|\u2299} kpc{sup|\u22122})'
];
[275, 630, 985].forEach((x, k) => graphics.push(T(x, 1416, xTitles[k], 22, {align:'center', lineHeight:30, rich:axRich})));
const yT = T(20, 705, 'Log \u03A3{sub|SFR} (M{sub|\u2299} yr{sup|\u22121} kpc{sup|\u22122})', 22, {align:'center', lineHeight:30, rich:axRich});
yT.rotation = Math.PI / 2;
graphics.push(yT);

const chart = echarts.init(document.getElementById('c'), null, {renderer:'canvas', width:1159, height:1433});
chart.setOption({
  animation:false,
  backgroundColor:'#ffffff',
  grid:grids, xAxis:xAxes, yAxis:yAxes, series,
  legend:{show:true, data:['SF spaxels','Retired spaxels','Others'], orient:'vertical', left:106, top:225,
    icon:'circle', itemWidth:46, itemHeight:7, itemGap:3, padding:[5,7,4,18],
    backgroundColor:'rgba(255,255,255,0.8)', borderColor:'#cccccc', borderWidth:1, borderRadius:4,
    selectedMode:false, z:10, textStyle:{fontSize:16, fontFamily:FONT, color:'#000', lineHeight:20}},
  graphic:graphics
});
</script></body></html>
